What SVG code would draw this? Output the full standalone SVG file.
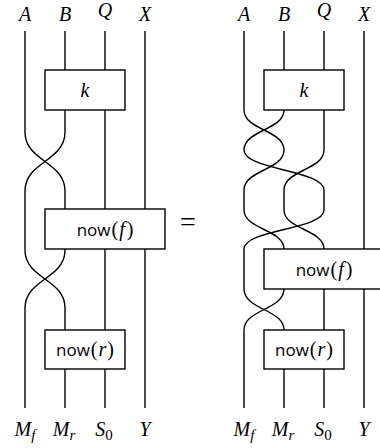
<svg xmlns="http://www.w3.org/2000/svg" width="380" height="448" viewBox="0 0 380 448">
<style>
.w{fill:none;stroke:#000;stroke-width:1.4}
.box{fill:#fff;stroke:#000;stroke-width:1.4}
.lbl{font-family:"Liberation Serif",serif;font-style:italic;font-size:20px;fill:#000;text-anchor:middle}
.sub{font-size:15px}
.up{font-style:normal}
.fn{font-family:"Open Sans","Liberation Sans",sans-serif;font-style:normal;font-size:17px}
.arg{font-family:"Liberation Serif",serif;font-size:20px}
</style>
<rect width="380" height="448" fill="#fff"/>
<g id="connectors">
  <!-- left -->
  <path class="w" d="M25 31 V132 C25 161.5 65 161.5 65 191 V209"/>
  <path class="w" d="M65 31 V70"/>
  <path class="w" d="M105 31 V70"/>
  <path class="w" d="M65 110 V132 C65 161.5 25 161.5 25 191 V250 C25 279 65 279 65 308 V330"/>
  <path class="w" d="M105 110 V209"/>
  <path class="w" d="M145 31 V209"/>
  <path class="w" d="M65 249 V250 C65 279 25 279 25 308 V408"/>
  <path class="w" d="M105 249 V330"/>
  <path class="w" d="M145 249 V408"/>
  <path class="w" d="M65 369 V408"/>
  <path class="w" d="M105 369 V408"/>
  <!-- right -->
  <path class="w" d="M244 31 V110 C244 130 284 130 284 150 C284 170 244 170 244 190 V210 C244 229.5 284 229.5 284 249"/>
  <path class="w" d="M284 31 V70"/>
  <path class="w" d="M324 31 V70"/>
  <path class="w" d="M284 110 C284 130 244 130 244 150 C244 170 324 170 324 190 V210 C324 229.5 244 229.5 244 249 V289 C244 309.5 284 309.5 284 330"/>
  <path class="w" d="M324 110 V150 C324 170 284 170 284 190 V210 C284 229.5 324 229.5 324 249"/>
  <path class="w" d="M364 31 V249"/>
  <path class="w" d="M364 289 V408"/>
  <path class="w" d="M284 289 C284 309.5 244 309.5 244 330 V408"/>
  <path class="w" d="M324 289 V330"/>
  <path class="w" d="M284 369 V408"/>
  <path class="w" d="M324 369 V408"/>
</g>
<g id="labels-left">
  <text class="lbl" x="25" y="20.5">A</text>
  <text class="lbl" x="65" y="20.5">B</text>
  <text class="lbl" x="105" y="16.5">Q</text>
  <text class="lbl" x="145" y="20.5">X</text>
  <text class="lbl" x="25" y="436">M<tspan class="sub" dy="4">f</tspan></text>
  <text class="lbl" x="64" y="436">M<tspan class="sub" dy="4">r</tspan></text>
  <text class="lbl" x="104" y="436">S<tspan class="sub up" dy="4">0</tspan></text>
  <text class="lbl" x="145" y="436">Y</text>
</g>
<g id="labels-right">
  <text class="lbl" x="244" y="20.5">A</text>
  <text class="lbl" x="284" y="20.5">B</text>
  <text class="lbl" x="324" y="16.5">Q</text>
  <text class="lbl" x="364" y="20.5">X</text>
  <text class="lbl" x="244" y="436">M<tspan class="sub" dy="4">f</tspan></text>
  <text class="lbl" x="283" y="436">M<tspan class="sub" dy="4">r</tspan></text>
  <text class="lbl" x="323" y="436">S<tspan class="sub up" dy="4">0</tspan></text>
  <text class="lbl" x="364" y="436">Y</text>
</g>
<g id="k-left">
  <rect class="box" x="45" y="70" width="80" height="40"/>
  <text class="lbl" x="85" y="97">k</text>
</g>
<g id="nowf-left">
  <rect class="box" x="45" y="209" width="120" height="40"/>
  <text class="lbl" x="105" y="236"><tspan class="fn">now</tspan><tspan class="arg up" dx="1">(</tspan><tspan class="arg" dx="1">f</tspan><tspan class="arg up" dx="2">)</tspan></text>
</g>
<g id="nowr-left">
  <rect class="box" x="45" y="330" width="80" height="39"/>
  <text class="lbl" x="85" y="356"><tspan class="fn">now</tspan><tspan class="arg up" dx="1">(</tspan><tspan class="arg" dx="1">r</tspan><tspan class="arg up" dx="1">)</tspan></text>
</g>
<g id="equals">
  <text class="lbl up" x="188" y="231" style="font-size:28px">=</text>
</g>
<g id="k-right">
  <rect class="box" x="264" y="70" width="80" height="40"/>
  <text class="lbl" x="304" y="97">k</text>
</g>
<g id="nowf-right">
  <rect class="box" x="264" y="249" width="120" height="40"/>
  <text class="lbl" x="324" y="276"><tspan class="fn">now</tspan><tspan class="arg up" dx="1">(</tspan><tspan class="arg" dx="1">f</tspan><tspan class="arg up" dx="2">)</tspan></text>
</g>
<g id="nowr-right">
  <rect class="box" x="264" y="330" width="80" height="39"/>
  <text class="lbl" x="304" y="356"><tspan class="fn">now</tspan><tspan class="arg up" dx="1">(</tspan><tspan class="arg" dx="1">r</tspan><tspan class="arg up" dx="1">)</tspan></text>
</g>
</svg>
